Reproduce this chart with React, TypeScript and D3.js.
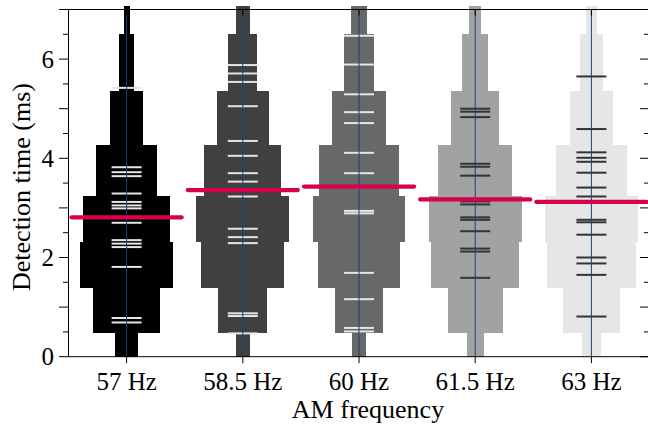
import React from "react";
import * as d3 from "d3";

const categories = ["57 Hz", "58.5 Hz", "60 Hz", "61.5 Hz", "63 Hz"];
const binEdges = [0, 0.47, 1.39, 2.31, 3.23, 4.26, 5.36, 6.5, 7.07];
const density57 = [0.25, 0.72, 1.0, 0.94, 0.65, 0.35, 0.16, 0.065];
const density585 = [0.15, 0.53, 0.89, 1.0, 0.83, 0.56, 0.31, 0.15];
const density60 = [0.15, 0.51, 0.88, 1.0, 0.85, 0.58, 0.33, 0.17];
const density615 = [0.18, 0.59, 0.95, 1.0, 0.8, 0.51, 0.28, 0.13];
const density63 = [0.2, 0.61, 0.96, 1.0, 0.77, 0.47, 0.24, 0.11];
const times57 = [5.42, 3.82, 3.72, 3.64, 3.29, 3.12, 3.05, 2.99, 2.7, 2.35, 2.28, 2.21, 1.81, 0.78, 0.69];
const times585 = [5.88, 5.71, 5.54, 5.05, 4.35, 4.05, 3.7, 3.53, 3.23, 2.58, 2.41, 2.29, 0.875, 0.82, 0.47];
const times60 = [6.47, 5.89, 5.29, 4.93, 4.71, 4.11, 3.7, 2.94, 2.89, 1.69, 1.16, 0.58, 0.51];
const times615 = [5.0, 4.94, 4.83, 3.89, 3.83, 3.65, 3.13, 3.07, 2.81, 2.76, 2.53, 2.18, 2.12, 1.59];
const times63 = [5.65, 4.59, 4.12, 4.01, 3.93, 3.71, 3.41, 3.23, 2.76, 2.71, 2.46, 2.0, 1.88, 1.65, 0.81];
const means = [2.81, 3.36, 3.43, 3.17, 3.12];
const yMajorTicks = [0, 2, 4, 6];
const yTicks = d3.range(0, 7.01, 0.5);

const densities = [density57, density585, density60, density615, density63];
const times = [times57, times585, times60, times615, times63];
const beanColors = ["#000000", "#404040", "#686868", "#a2a2a2", "#e6e6e6"];
const rugColors = ["#e6e6e6", "#e6e6e6", "#e6e6e6", "#333333", "#333333"];

const W = 648;
const H = 428;
const FONT = "'Liberation Serif', 'Times New Roman', serif";

export default function App() {
  const x = d3.scaleBand<string>().domain(categories).range([68.5, 649.5]).padding(0);
  const y = d3.scaleLinear().domain([0, 7]).range([356.7, 9.5]);
  const bw = x.bandwidth();
  const maxW = bw * 0.8;
  const left = 68.5;
  const right = 649.5;

  return (
    <svg width={W} height={H} style={{ position: "absolute", left: 0, top: 0, background: "#fff" }}>
      {categories.map((c, i) => {
        const cx = (x(c) as number) + bw / 2;
        return (
          <g key={c}>
            {densities[i].map((d, j) => {
              const w = d * maxW;
              return (
                <rect
                  key={j}
                  x={cx - w / 2}
                  y={y(binEdges[j + 1])}
                  width={w}
                  height={y(binEdges[j]) - y(binEdges[j + 1])}
                  fill={beanColors[i]}
                  shapeRendering="crispEdges"
                />
              );
            })}
            {times[i].map((t, k) => (
              <line key={k} x1={cx - 15} x2={cx + 15} y1={y(t)} y2={y(t)} stroke={rugColors[i]} strokeWidth={2} />
            ))}
            <line x1={cx} x2={cx} y1={y(7)} y2={y(0)} stroke="#1c3f7a" strokeWidth={1} />
          </g>
        );
      })}
      {categories.map((c, i) => {
        const cx = (x(c) as number) + bw / 2;
        return (
          <line
            key={"m" + c}
            x1={cx - 55}
            x2={cx + 55}
            y1={y(means[i])}
            y2={y(means[i])}
            stroke="#d6004f"
            strokeWidth={4.3}
            strokeLinecap="round"
          />
        );
      })}
      {/* spines */}
      <line x1={left} x2={left} y1={y(7)} y2={y(0)} stroke="#000" strokeWidth={1} />
      <line x1={right} x2={right} y1={y(7)} y2={y(0)} stroke="#000" strokeWidth={1} />
      <line x1={left} x2={right} y1={y(7)} y2={y(7)} stroke="#000" strokeWidth={1} />
      <line x1={left} x2={right} y1={y(0)} y2={y(0)} stroke="#000" strokeWidth={1} />
      {/* y ticks */}
      {yTicks.map((t) => {
        const major = Number.isInteger(t);
        const len = major ? 9.5 : 5.5;
        return (
          <g key={"yt" + t}>
            <line x1={left - len} x2={left} y1={y(t)} y2={y(t)} stroke="#000" strokeWidth={1} />
            <line x1={right - len} x2={right} y1={y(t)} y2={y(t)} stroke="#000" strokeWidth={1} />
          </g>
        );
      })}
      {yMajorTicks.map((t) => (
        <text
          key={"yl" + t}
          x={54}
          y={y(t)}
          dy="0.35em"
          textAnchor="end"
          fontFamily={FONT}
          fontSize={25}
          fill="#000"
        >
          {t}
        </text>
      ))}
      {/* x ticks */}
      {categories.map((c) => {
        const cx = (x(c) as number) + bw / 2;
        return (
          <g key={"xt" + c}>
            <line x1={cx} x2={cx} y1={y(0)} y2={y(0) + 6.5} stroke="#000" strokeWidth={1} />
            <line x1={cx} x2={cx} y1={y(7)} y2={y(7) + 6} stroke="#000" strokeWidth={1} />
            <text x={cx} y={390} textAnchor="middle" fontFamily={FONT} fontSize={25} fill="#000">
              {c}
            </text>
          </g>
        );
      })}
      <text x={368} y={418} textAnchor="middle" fontFamily={FONT} fontSize={26} fill="#000">
        AM frequency
      </text>
      <text
        transform={`translate(30,187) rotate(-90)`}
        textAnchor="middle"
        fontFamily={FONT}
        fontSize={26}
        fill="#000"
      >
        Detection time (ms)
      </text>
    </svg>
  );
}
